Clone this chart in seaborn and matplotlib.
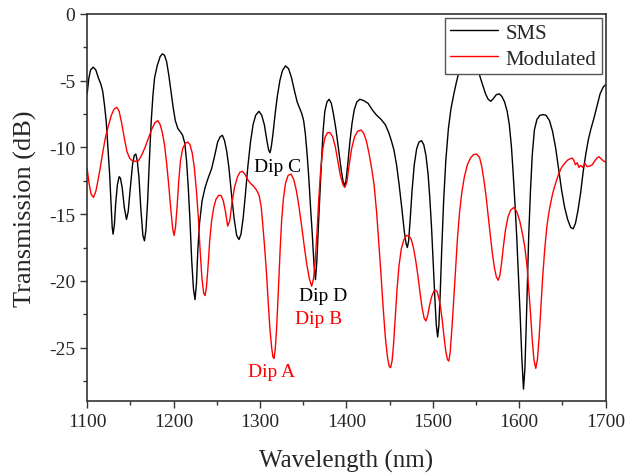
import numpy as np
import pandas as pd
import matplotlib
matplotlib.use("Agg")
import matplotlib.pyplot as plt
import seaborn as sns
from matplotlib.ticker import MultipleLocator

# values (wavelength nm, transmission dB)
sms_wl = [1100, 1102, 1104, 1107, 1110, 1113, 1116, 1118, 1120, 1122, 1124, 1126, 1127.5, 1129,
          1130, 1131.5, 1133, 1135, 1137, 1138.5, 1140.5, 1143, 1145.5, 1147.5, 1150, 1152.5,
          1154.5, 1156.3, 1158, 1160, 1162, 1164.5, 1166.3, 1168, 1170, 1172, 1174, 1176, 1178,
          1181, 1184.5, 1187, 1189.5, 1192, 1194.5, 1197, 1199.5, 1202, 1205, 1208, 1210.5,
          1213, 1215, 1217, 1219, 1221, 1223, 1224.8, 1226.5, 1228, 1230, 1233, 1236.5, 1240,
          1244, 1248, 1251, 1254, 1256.5, 1259, 1261.5, 1264, 1267, 1270, 1273, 1275.7, 1278,
          1280.5, 1283, 1286, 1289, 1292, 1295, 1298.8, 1302, 1305, 1308, 1310, 1311.6, 1313,
          1315, 1317.5, 1320, 1323, 1326, 1329.5, 1333, 1336.5, 1340, 1343, 1346, 1348.5,
          1350.5, 1352.5, 1354.5, 1356.5, 1358.5, 1360.5, 1362.5, 1364.2, 1365.8, 1367.5,
          1369.2, 1371, 1373, 1375, 1377.5, 1380, 1382.5, 1385, 1388, 1391, 1394, 1396, 1397.8,
          1399.5, 1401.5, 1404, 1406.5, 1409, 1412, 1415.6, 1420, 1425, 1430, 1435, 1440, 1445,
          1449, 1452, 1455, 1458, 1461, 1464, 1467, 1469, 1470.5, 1472, 1474, 1476, 1478.5,
          1481.3, 1484, 1487, 1489.5, 1492, 1494.5, 1496.5, 1498.5, 1500.5, 1502.5, 1504,
          1505.6, 1507, 1508.5, 1510.2, 1512.5, 1515, 1518, 1521, 1524, 1527, 1530, 1534, 1538,
          1542, 1546, 1549.5, 1552, 1555, 1558, 1561, 1564, 1567, 1570, 1573.5, 1577, 1580,
          1583, 1586, 1588.5, 1591, 1593, 1595, 1597, 1599, 1601, 1603, 1604.9, 1606.5, 1608,
          1609.5, 1611, 1613, 1615, 1617.5, 1620.5, 1624, 1627.6, 1631, 1635, 1638.5, 1642,
          1645.5, 1649, 1652.5, 1656, 1659.5, 1662.4, 1665, 1668, 1671, 1674, 1677, 1680, 1683,
          1686.5, 1690, 1693.5, 1697, 1700]
sms_db = [-6.0, -4.8, -4.2, -4.0, -4.2, -4.8, -5.3, -5.8, -6.8, -8.0, -10.0, -12.0, -14.0, -16.0,
          -16.5, -15.8, -14.2, -12.8, -12.2, -12.3, -13.0, -14.5, -15.4, -14.8, -13.0, -11.3,
          -10.6, -10.5, -11.0, -12.3, -14.5, -16.6, -17.0, -16.2, -14.0, -11.0, -8.2, -6.2, -4.8,
          -3.9, -3.2, -3.0, -3.1, -3.6, -4.6, -5.8, -7.0, -8.0, -8.6, -8.85, -9.1,
          -9.7, -11.0, -13.0, -15.5, -18.5, -20.6, -21.4, -20.2, -17.8, -15.7, -14.0, -13.0, -12.3,
          -11.6, -10.5, -9.6, -9.2, -9.1, -9.5, -10.3, -11.5, -13.5, -15.3, -16.6, -16.9, -16.5,
          -15.3, -13.6, -11.4, -9.6, -8.3, -7.6, -7.3, -7.6, -8.3, -9.5, -10.2, -10.4, -10.0,
          -9.0, -7.5, -6.2, -5.0, -4.25, -3.9, -4.1, -4.8, -5.8, -6.6, -7.1, -7.5,
          -8.0, -9.0, -10.5, -12.3, -14.5, -16.5, -18.8, -19.9, -18.5, -16.0,
          -13.7, -11.2, -8.8, -7.3, -6.6, -6.4, -6.7, -7.5, -8.7, -10.2, -11.7, -12.5, -12.9,
          -12.5, -11.3, -9.6, -8.2, -7.2, -6.6, -6.4, -6.5, -6.7, -7.2, -7.6, -7.9, -8.3,
          -8.9, -9.5, -10.2, -11.3, -12.8, -14.5, -16.3, -17.2, -17.5, -17.0, -15.2, -13.2, -11.3,
          -10.1, -9.6, -9.5, -9.8, -10.6, -12.0, -13.8, -16.0, -18.8, -21.5, -23.3,
          -24.2, -23.3, -21.0, -17.8, -14.0, -11.0, -8.6, -7.1, -6.1, -5.2, -4.4, -3.2, -2.3,
          -1.9, -2.3, -3.2, -4.1, -4.8, -5.4, -6.0, -6.4, -6.55, -6.35, -6.05, -6.0, -6.2,
          -6.6, -7.3, -8.3, -10.0, -12.0, -14.2, -16.6, -19.5, -22.5, -25.8, -28.1, -26.6, -23.5,
          -20.0, -16.5, -13.2, -10.6, -8.7, -7.9, -7.6, -7.55, -7.6, -8.0, -8.8, -10.0,
          -11.6, -13.2, -14.5, -15.4, -16.0, -16.1, -15.7, -14.7, -13.4, -11.8, -10.5, -9.4, -8.6,
          -7.8, -6.9, -6.0, -5.5, -5.3]

mod_wl = [1100, 1102, 1104.5, 1107.3, 1110, 1112.5, 1115, 1118, 1121, 1124.5, 1128, 1131, 1134.3,
          1137, 1140, 1143, 1146, 1149, 1152, 1156, 1159.5, 1163, 1167, 1171, 1175, 1178.5,
          1181.7, 1184.5, 1187, 1189.5, 1192, 1194.5, 1197, 1199, 1200.6, 1202.2, 1204, 1206,
          1208, 1210.5, 1213.5, 1216.4, 1219, 1221.5, 1224, 1226.5, 1228.7, 1230.8, 1232.8,
          1234.8, 1236.4, 1238, 1239.8, 1241.8, 1244, 1246.5, 1249, 1252, 1255, 1257.5, 1260,
          1262.6, 1265, 1267.5, 1270.5, 1274, 1277, 1279.6, 1282.5, 1285.5, 1289, 1292.5, 1296,
          1299, 1301.5, 1303.5, 1305.5, 1307.5, 1309.5, 1311.5, 1313.5, 1315, 1316.2, 1317.5,
          1319, 1320.5, 1322, 1323.5, 1325, 1327, 1329.5, 1332.5, 1335.9, 1339, 1342, 1345,
          1348, 1351, 1354, 1357, 1359.8, 1362, 1364, 1366, 1368, 1370, 1372.5, 1375, 1378,
          1381, 1384, 1387, 1390, 1393, 1396, 1398.2, 1400.5, 1403, 1406, 1409.5, 1413, 1416.8,
          1420, 1423, 1426, 1429, 1432, 1435, 1437.5, 1440, 1442.5, 1445, 1447.5, 1449.5,
          1451.1, 1452.8, 1454.5, 1456.5, 1458.5, 1460.8, 1463.5, 1466.5, 1469.5, 1472.4, 1475,
          1477.5, 1480, 1482.5, 1485, 1487.5, 1490, 1492, 1494, 1496, 1498.5, 1501, 1503, 1505,
          1507, 1509, 1511, 1513, 1515, 1517, 1518.5, 1520, 1521.8, 1523.8, 1526, 1528.5, 1531,
          1533.5, 1536.5, 1540, 1543.5, 1547, 1550.7, 1554, 1556.5, 1559, 1561.5, 1564, 1566.5,
          1569, 1571.5, 1573.5, 1575.6, 1577.5, 1579.5, 1581.5, 1584, 1587, 1590, 1593.7, 1597,
          1600.5, 1603.5, 1606.5, 1609, 1611, 1613, 1615, 1617, 1619.1, 1621, 1623, 1625, 1627,
          1629.5, 1632, 1635, 1638.5, 1642, 1645.5, 1649, 1652.5, 1656, 1659, 1661.2, 1663, 1665,
          1667, 1669, 1671, 1673.5, 1676, 1678.5, 1681.7, 1684.5, 1687.5, 1690, 1692.1, 1694.5,
          1697, 1700]
mod_db = [-11.6, -12.6, -13.5, -13.75, -13.3, -12.5, -11.6, -10.4, -9.3, -8.4, -7.6, -7.15, -7.0,
          -7.3, -8.2, -9.3, -10.3, -10.8, -11.0, -11.05, -11.0, -10.6, -10.0, -9.3, -8.6, -8.15,
          -8.0, -8.3, -8.9, -9.8, -11.2, -12.9, -14.8, -16.1, -16.6, -16.0, -14.5, -12.5,
          -11.0, -10.1, -9.7, -9.6, -9.8, -10.4, -11.5, -13.3, -15.3, -17.8, -19.8,
          -20.9, -21.1, -20.5, -19.0, -17.0, -15.5, -14.5, -13.9, -13.6, -13.6, -14.0, -14.8,
          -15.9, -15.5, -14.2, -13.0, -12.2, -11.85, -11.8, -12.0, -12.4, -12.7, -12.9, -13.2,
          -13.6, -14.5, -16.0, -17.6, -19.4, -21.6, -23.6, -25.0, -25.7, -25.8, -25.2,
          -23.8, -21.8, -19.6, -17.4, -15.5, -13.9, -12.7, -12.1, -12.0, -12.4, -13.2, -14.4,
          -15.8, -17.3, -18.7, -19.8, -20.4, -19.8, -18.4, -16.3, -13.9, -11.9, -10.2, -9.3, -8.9,
          -8.9, -9.2, -9.9, -11.0, -12.1, -12.8, -13.0, -12.6, -11.4, -10.1, -9.2, -8.8, -8.7,
          -8.95, -9.5, -10.4, -11.5, -12.8, -14.9, -17.2, -19.5, -22.0, -24.2, -25.7, -26.4,
          -26.5, -26.0, -24.8, -22.8, -20.7, -18.9, -17.6, -16.9, -16.6, -16.6, -16.9,
          -17.5, -18.4, -19.5, -20.8, -22.0, -22.8, -23.0, -22.6, -21.9, -21.2, -20.8, -20.7, -20.8,
          -21.3, -22.0, -23.0, -24.2, -25.3, -25.9, -26.0, -25.4, -23.8, -21.8, -19.4, -16.8, -14.8,
          -13.4, -12.2, -11.3, -10.8, -10.55, -10.5, -10.75, -11.4, -12.4, -13.6, -15.1, -16.6,
          -18.0, -19.1, -19.7, -19.95, -19.6, -18.7, -17.5, -16.2, -15.2, -14.7, -14.5, -14.8,
          -15.5, -16.4, -17.5, -18.9, -20.6, -22.4, -24.4, -25.9, -26.55, -25.9, -24.2, -22.0, -19.8,
          -17.6, -15.9, -14.6, -13.5, -12.7, -12.0, -11.5, -11.2, -10.95, -10.85, -10.8, -10.95, -11.3,
          -11.15, -11.5, -11.35, -11.5, -11.2, -11.45, -11.4, -11.3, -11.0, -10.8, -10.7, -10.85,
          -11.0, -11.1]

series_names = ["SMS", "Modulated"]
series_colors = ["black", "red"]

dip_labels = ["Dip C", "Dip D", "Dip B", "Dip A"]
dip_x = [1320.5, 1373, 1368, 1313]
dip_y = [-11.4, -21.1, -22.8, -26.75]
dip_colors = ["black", "black", "red", "red"]

df = pd.concat([
    pd.DataFrame({"wl": sms_wl, "db": sms_db, "series": "SMS"}),
    pd.DataFrame({"wl": mod_wl, "db": mod_db, "series": "Modulated"}),
])

sns.set_style("ticks")
plt.rcParams["font.family"] = ["Liberation Serif", "DejaVu Serif"]
plt.rcParams["axes.unicode_minus"] = False

fig, ax = plt.subplots(figsize=(6.27, 4.77), dpi=100)
fig.subplots_adjust(left=0.139, right=0.966, top=0.969, bottom=0.157)

sns.lineplot(data=df, x="wl", y="db", hue="series", hue_order=series_names,
             palette=series_colors, estimator=None, sort=False, linewidth=1.0, ax=ax)

for lab, x, y, c in zip(dip_labels, dip_x, dip_y, dip_colors):
    ax.text(x, y, lab, color=c, fontsize=14, ha="center", va="center")

ax.set_xlim(1100, 1700)
ax.set_ylim(-29, 0)
ax.xaxis.set_major_locator(MultipleLocator(100))
ax.xaxis.set_minor_locator(MultipleLocator(50))
ax.yaxis.set_major_locator(MultipleLocator(5))
ax.yaxis.set_minor_locator(MultipleLocator(2.5))
ax.tick_params(which="major", direction="out", length=5, width=1.0, labelsize=14, color="#333333")
ax.tick_params(which="minor", direction="out", length=3, width=1.0, color="#333333")
for s in ax.spines.values():
    s.set_linewidth(1.2)
    s.set_color("#333333")

ax.set_xlabel("Wavelength (nm)", fontsize=18, labelpad=14)
ax.set_ylabel("Transmission (dB)", fontsize=19, labelpad=9)

leg = ax.legend(loc="upper right", fontsize=15, frameon=True, fancybox=False,
                edgecolor="#555555", framealpha=1, borderaxespad=0.2,
                handlelength=2.3, handletextpad=0.35, labelspacing=0.3,
                borderpad=0.25)
leg.get_frame().set_linewidth(1.0)
leg.set_zorder(5)

fig.savefig("out.png", dpi=100)
